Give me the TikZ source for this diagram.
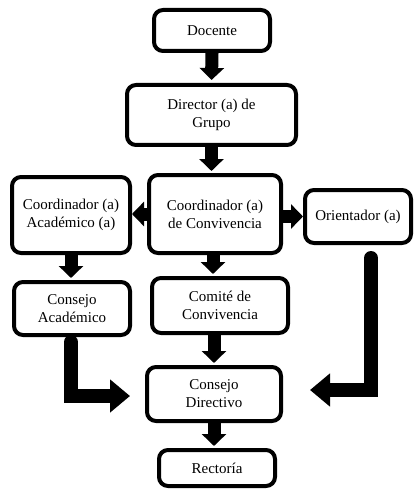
\documentclass[tikz,border=0pt]{standalone}
\usepackage{fontspec}
\setmainfont{Liberation Serif}
\usetikzlibrary{arrows.meta}
\begin{document}
\begin{tikzpicture}[x=1pt,y=-1pt,
  box/.style={draw,line width=4pt,rounded corners=9pt,fill=white,align=center,inner sep=0pt,font=\fontsize{15}{18}\selectfont},
  smallarrow/.style={line width=13pt,-{Triangle[width=24pt,length=12pt]}},
  bigarrow/.style={line width=14pt,line cap=round,-{Triangle[width=32pt,length=20pt]}}
]
\useasboundingbox (0,0) rectangle (415,489);
\node[box,minimum width=116pt,minimum height=41pt] (doc) at (212,30.5) {Docente};
\node[box,minimum width=169pt,minimum height=60pt] (dir) at (211.5,115) {Director (a) de\\Grupo};
\node[box,minimum width=118pt,minimum height=76pt] (ca) at (71,215) {Coordinador (a)\\Académico (a)};
\node[box,minimum width=132pt,minimum height=78pt] (cc) at (215,214) {Coordinador (a)\\de Convivencia};
\node[box,minimum width=106pt,minimum height=53pt] (or) at (358,216.5) {Orientador (a)};
\node[box,minimum width=116pt,minimum height=53pt] (cs) at (72,308.5) {Consejo\\Académico};
\node[box,minimum width=136pt,minimum height=55pt] (cm) at (220,305.5) {Comité de\\Convivencia};
\node[box,minimum width=134pt,minimum height=54pt] (cd) at (214,394) {Consejo\\Directivo};
\node[box,minimum width=116pt,minimum height=36pt] (re) at (217,468) {Rectoría};

\draw[smallarrow] (doc.south) -- ([yshift=3pt]dir.north);
\draw[smallarrow] (dir.south) -- ([yshift=2pt]dir.south |- cc.north);
\draw[smallarrow] (cc.west) -- (cc.west -| ca.east);
\draw[smallarrow] (cc.east |- or.west) -- (or.west);
\draw[smallarrow] (ca.south) -- ([yshift=2pt]ca.south |- cs.north);
\draw[smallarrow] ([xshift=-2pt]cc.south) -- ([xshift=-2pt,yshift=2pt]cc.south |- cm.north);
\draw[smallarrow] (cd.north |- cm.south) -- ([yshift=2pt]cd.north);
\draw[smallarrow] (cd.south) -- ([yshift=2pt]cd.south |- re.north);

\coordinate (la) at (71,342);
\coordinate (lt) at (130,396);
\coordinate (ra) at (371,258);
\coordinate (rt) at (310,390);
\draw[bigarrow] (la) |- (lt);
\draw[bigarrow] (ra) |- (rt);
\end{tikzpicture}
\end{document}
